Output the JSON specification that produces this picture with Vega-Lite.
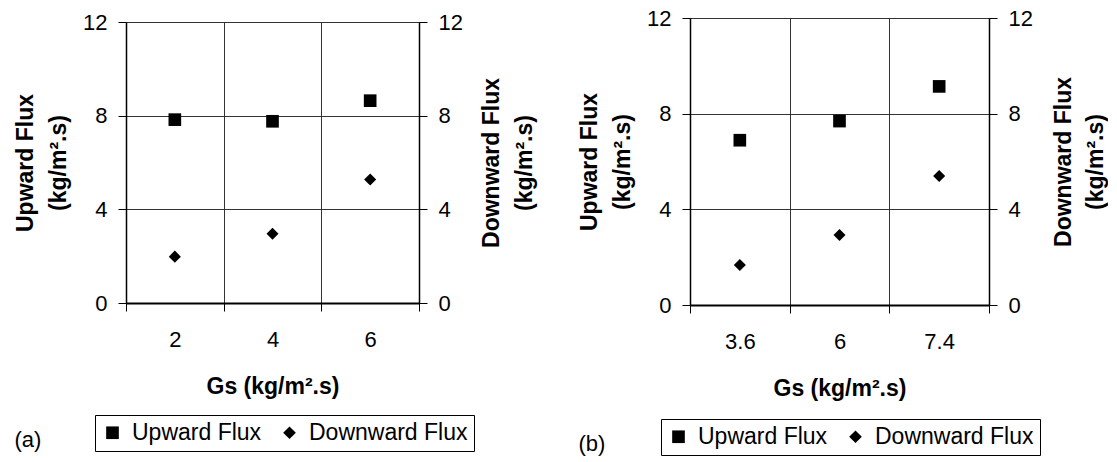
{
  "$schema": "https://vega.github.io/schema/vega-lite/v6.json",
  "padding": {"left": 14, "top": -3, "right": 0, "bottom": 0},
  "autosize": {"type": "pad"},
  "config": {
    "font": "Liberation Sans",
    "view": {"stroke": "black", "strokeWidth": 1},
    "axis": {"labelColor": "black", "titleColor": "black", "labelFont": "Liberation Sans", "titleFont": "Liberation Sans"},
    "legend": {"labelFont": "Liberation Sans", "labelColor": "black"},
    "title": {"font": "Liberation Sans", "color": "black"}
  },
  "spacing": 41,
  "center": true,
  "resolve": {"scale": {"x": "independent", "y": "independent", "shape": "independent"}, "legend": {"shape": "independent"}},
  "hconcat": [
    {
      "width": 293,
      "height": 281,
      "title": {"text": "(a)", "orient": "bottom", "anchor": "start", "frame": "bounds", "fontSize": 22, "fontWeight": "normal", "dy": -22, "offset": 0},
      "data": {"values": [
        {"Gs": "2", "series": "Upward Flux", "flux": 7.83},
        {"Gs": "4", "series": "Upward Flux", "flux": 7.76},
        {"Gs": "6", "series": "Upward Flux", "flux": 8.64},
        {"Gs": "2", "series": "Downward Flux", "flux": 1.98},
        {"Gs": "4", "series": "Downward Flux", "flux": 2.96},
        {"Gs": "6", "series": "Downward Flux", "flux": 5.27}
      ]},
      "resolve": {"axis": {"x": "independent", "y": "independent"}},
      "layer": [
        {
          "transform": [{"filter": "datum.series === 'Upward Flux'"}],
          "mark": {"type": "point", "filled": true, "color": "black", "opacity": 1, "size": 160},
          "encoding": {
            "x": {"field": "Gs", "type": "ordinal", "sort": null,
              "scale": {"type": "band", "paddingInner": 0, "paddingOuter": 0},
              "axis": {"tickBand": "extent", "grid": true, "gridColor": "#333", "gridWidth": 1, "tickSize": 8, "tickColor": "black", "domainColor": "black", "domainWidth": 2, "labelFontSize": 22, "labelPadding": 18, "labelAngle": 0, "title": "Gs (kg/m².s)", "titleFontSize": 23, "titleFontWeight": "bold", "titlePadding": 25}},
            "y": {"field": "flux", "type": "quantitative", "scale": {"domain": [0, 12], "nice": false},
              "axis": {"orient": "left", "values": [0, 4, 8, 12], "grid": true, "gridColor": "#333", "gridWidth": 1, "tickSize": 8, "tickColor": "black", "domainColor": "black", "domainWidth": 1.5, "labelFontSize": 22, "labelPadding": 11, "title": ["Upward Flux", "(kg/m².s)"], "titleFontSize": 23, "titleFontWeight": "bold", "titleLineHeight": 33, "titlePadding": 12}},
            "shape": {"field": "series", "type": "nominal",
              "scale": {"domain": ["Upward Flux", "Downward Flux"], "range": ["square", "diamond"]},
              "legend": {"orient": "none", "legendX": -31, "legendY": 393, "direction": "horizontal", "title": null, "strokeColor": "black", "fillColor": "white", "padding": 6, "labelFontSize": 23, "symbolSize": 160, "symbolFillColor": "black", "symbolStrokeWidth": 0, "labelOffset": 8, "columnPadding": 16}}
          }
        },
        {
          "transform": [{"filter": "datum.series === 'Downward Flux'"}],
          "mark": {"type": "point", "filled": true, "color": "black", "opacity": 1, "size": 145},
          "encoding": {
            "x": {"field": "Gs", "type": "ordinal", "sort": null,
              "axis": {"orient": "top", "domain": false, "labels": false, "grid": false, "ticks": true, "tickSize": 24, "tickColor": "transparent", "title": null}},
            "y": {"field": "flux", "type": "quantitative",
              "axis": {"orient": "right", "values": [0, 4, 8, 12], "grid": false, "tickSize": 8, "tickColor": "black", "domainColor": "black", "domainWidth": 1.5, "labelFontSize": 22, "labelPadding": 11, "title": ["Downward Flux", "(kg/m².s)"], "titleAngle": 270, "titleFontSize": 23, "titleFontWeight": "bold", "titleLineHeight": 33, "titlePadding": 8}},
            "shape": {"field": "series", "type": "nominal"}
          }
        }
      ]
    },
    {
      "width": 299,
      "height": 287,
      "title": {"text": "(b)", "orient": "bottom", "anchor": "start", "frame": "bounds", "fontSize": 22, "fontWeight": "normal", "dy": -22, "offset": 0},
      "data": {"values": [
        {"Gs": "3.6", "series": "Upward Flux", "flux": 6.89},
        {"Gs": "6", "series": "Upward Flux", "flux": 7.69},
        {"Gs": "7.4", "series": "Upward Flux", "flux": 9.14},
        {"Gs": "3.6", "series": "Downward Flux", "flux": 1.67},
        {"Gs": "6", "series": "Downward Flux", "flux": 2.93},
        {"Gs": "7.4", "series": "Downward Flux", "flux": 5.39}
      ]},
      "resolve": {"axis": {"x": "independent", "y": "independent"}},
      "layer": [
        {
          "transform": [{"filter": "datum.series === 'Upward Flux'"}],
          "mark": {"type": "point", "filled": true, "color": "black", "opacity": 1, "size": 160},
          "encoding": {
            "x": {"field": "Gs", "type": "ordinal", "sort": null,
              "scale": {"type": "band", "paddingInner": 0, "paddingOuter": 0},
              "axis": {"tickBand": "extent", "grid": true, "gridColor": "#333", "gridWidth": 1, "tickSize": 8, "tickColor": "black", "domainColor": "black", "domainWidth": 2, "labelFontSize": 22, "labelPadding": 18, "labelAngle": 0, "title": "Gs (kg/m².s)", "titleFontSize": 23, "titleFontWeight": "bold", "titlePadding": 25}},
            "y": {"field": "flux", "type": "quantitative", "scale": {"domain": [0, 12], "nice": false},
              "axis": {"orient": "left", "values": [0, 4, 8, 12], "grid": true, "gridColor": "#333", "gridWidth": 1, "tickSize": 8, "tickColor": "black", "domainColor": "black", "domainWidth": 1.5, "labelFontSize": 22, "labelPadding": 11, "title": ["Upward Flux", "(kg/m².s)"], "titleFontSize": 23, "titleFontWeight": "bold", "titleLineHeight": 33, "titlePadding": 12}},
            "shape": {"field": "series", "type": "nominal",
              "scale": {"domain": ["Upward Flux", "Downward Flux"], "range": ["square", "diamond"]},
              "legend": {"orient": "none", "legendX": -29, "legendY": 401, "direction": "horizontal", "title": null, "strokeColor": "black", "fillColor": "white", "padding": 6, "labelFontSize": 23, "symbolSize": 160, "symbolFillColor": "black", "symbolStrokeWidth": 0, "labelOffset": 8, "columnPadding": 16}}
          }
        },
        {
          "transform": [{"filter": "datum.series === 'Downward Flux'"}],
          "mark": {"type": "point", "filled": true, "color": "black", "opacity": 1, "size": 145},
          "encoding": {
            "x": {"field": "Gs", "type": "ordinal", "sort": null, "axis": null},
            "y": {"field": "flux", "type": "quantitative",
              "axis": {"orient": "right", "values": [0, 4, 8, 12], "grid": false, "tickSize": 8, "tickColor": "black", "domainColor": "black", "domainWidth": 1.5, "labelFontSize": 22, "labelPadding": 11, "title": ["Downward Flux", "(kg/m².s)"], "titleAngle": 270, "titleFontSize": 23, "titleFontWeight": "bold", "titleLineHeight": 32, "titlePadding": 11}},
            "shape": {"field": "series", "type": "nominal"}
          }
        }
      ]
    }
  ]
}
